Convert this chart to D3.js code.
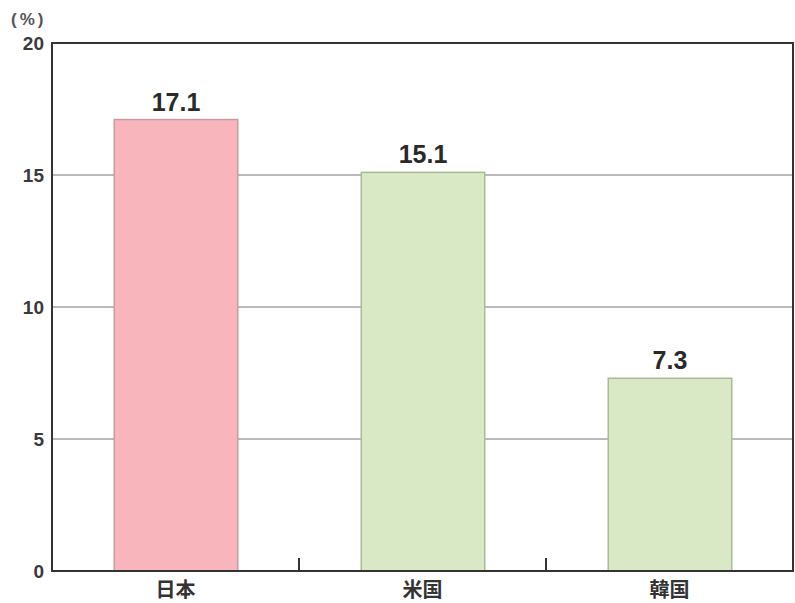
<!DOCTYPE html>
<html><head><meta charset="utf-8">
<script src="https://cdn.jsdelivr.net/npm/d3@7"></script>
<style>body{margin:0;background:#fff;}svg{display:block;}</style>
</head><body>
<svg id="c" width="795" height="603"></svg>
<script>
const categories = ["日本", "米国", "韓国"];
const values = [17.1, 15.1, 7.3];
const yTicks = [0, 5, 10, 15, 20];
const unitLabel = "(%)";
const fills = ["#f8b5bc", "#d9e8c5", "#d9e8c5"];
const strokes = ["#c79a9e", "#a9b99a", "#a9b99a"];

const svg = d3.select("#c");
const L = 52, R = 793, T = 43, B = 571;
const x = d3.scaleBand().domain(categories).range([L, R]).paddingInner(0).paddingOuter(0);
const y = d3.scaleLinear().domain([0, 20]).range([B, T]);
const font = "'Liberation Sans', Arial, sans-serif";

// gridlines
svg.append("g").selectAll("line").data(yTicks.filter(d => d > 0 && d < 20)).join("line")
  .attr("x1", L).attr("x2", R).attr("y1", d => y(d)).attr("y2", d => y(d))
  .attr("stroke", "#777").attr("stroke-width", 1.2);

// bars
const bw = x.bandwidth() * 0.5;
svg.append("g").selectAll("rect").data(values).join("rect")
  .attr("x", (d, i) => x(categories[i]) + x.bandwidth() / 2 - bw / 2 + 0.5)
  .attr("y", d => y(d))
  .attr("width", bw)
  .attr("height", d => B - y(d))
  .attr("fill", (d, i) => fills[i])
  .attr("stroke", (d, i) => strokes[i])
  .attr("stroke-width", 1.5);

// frame
svg.append("rect").attr("x", L).attr("y", T).attr("width", R - L).attr("height", B - T)
  .attr("fill", "none").attr("stroke", "#333").attr("stroke-width", 2);

// category separator ticks
svg.append("g").selectAll("line").data(categories.slice(1)).join("line")
  .attr("x1", d => x(d)).attr("x2", d => x(d)).attr("y1", B).attr("y2", B - 13)
  .attr("stroke", "#333").attr("stroke-width", 2);

// y tick labels
svg.append("g").selectAll("text").data(yTicks).join("text")
  .attr("x", 44).attr("y", d => y(d) + 7)
  .attr("text-anchor", "end").attr("font-family", font).attr("font-weight", "bold")
  .attr("font-size", 19).attr("fill", "#3a3a3a").text(d => d);

svg.append("text").attr("x", 11).attr("y", 25).attr("font-family", font).attr("font-weight", "bold")
  .attr("font-size", 17).attr("letter-spacing", 3).attr("fill", "#555").text(unitLabel);

// value labels
svg.append("g").selectAll("text").data(values).join("text")
  .attr("x", (d, i) => x(categories[i]) + x.bandwidth() / 2 + 0.5)
  .attr("y", d => y(d) - 9)
  .attr("text-anchor", "middle").attr("font-family", font).attr("font-weight", "bold")
  .attr("font-size", 25).attr("fill", "#2a2a2a").text(d => d.toFixed(1));

// category labels
svg.append("g").selectAll("text").data(categories).join("text")
  .attr("x", d => x(d) + x.bandwidth() / 2)
  .attr("y", 597)
  .attr("text-anchor", "middle").attr("font-family", "'Noto Sans CJK JP', sans-serif").attr("font-weight", "bold")
  .attr("font-size", 20).attr("fill", "#333").text(d => d);
</script>
</body></html>
